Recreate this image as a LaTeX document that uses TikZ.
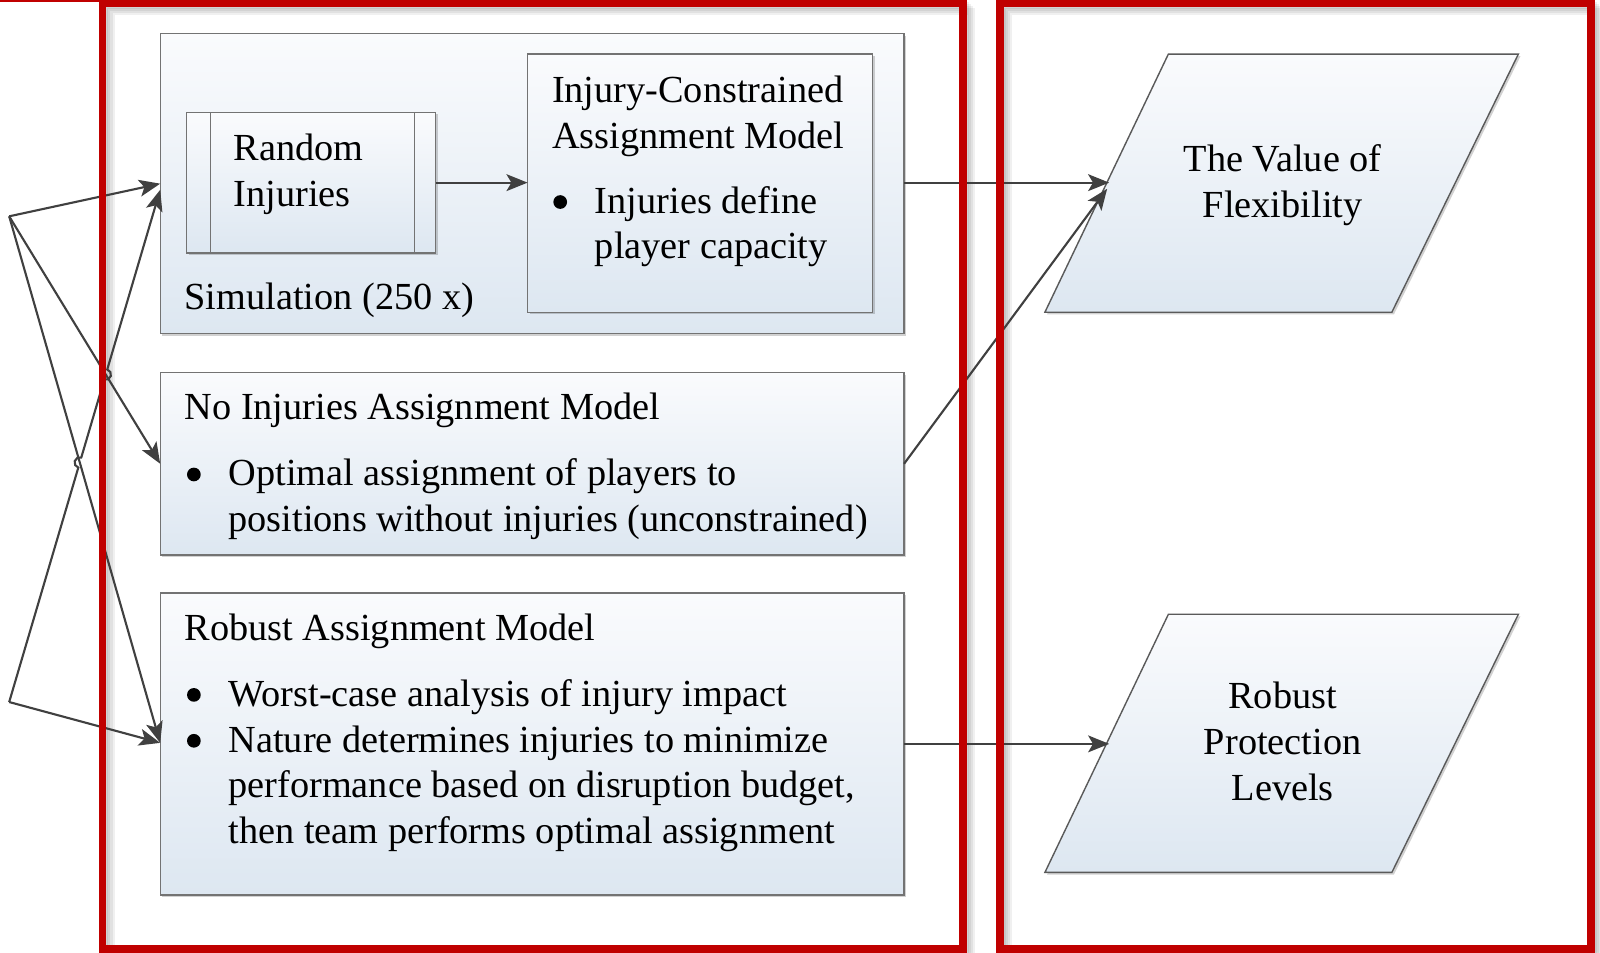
\documentclass[tikz,border=0pt]{standalone}
\usepackage{fontspec}
\setmainfont{Liberation Serif}
\usetikzlibrary{arrows.meta,calc,fit,shadows}
\definecolor{framecol}{RGB}{192,0,0}
\definecolor{boxtop}{RGB}{250,251,253}
\definecolor{boxbot}{RGB}{221,231,241}
\definecolor{boxline}{RGB}{115,115,115}
\definecolor{conncol}{RGB}{64,64,64}
\definecolor{parline}{RGB}{90,90,90}
\begin{document}
\begin{tikzpicture}[x={(0.010204cm,0)}, y={(0,-0.010204cm)},
  box/.style={draw=boxline, line width=0.4pt, top color=boxtop, bottom color=boxbot,
    inner sep=0, outer sep=0,
    drop shadow={shadow xshift=0.6pt, shadow yshift=-0.6pt, opacity=0.18, fill=black}},
  txt/.style={anchor=base west, inner sep=0, outer sep=0, font=\fontsize{10.9}{13}\selectfont},
  ctxt/.style={txt, anchor=base},
  bul/.style={circle, fill=black, inner sep=0, outer sep=0, minimum size=3.9pt},
  conn/.style={draw=conncol, line width=0.6pt, -{Stealth[length=6pt,width=4.8pt,inset=1.4pt]}},
  redframe/.style={draw=framecol, line width=2.2pt},
  fshadow/.style={draw=black, opacity=0.06, line width=2.2pt}]

\useasboundingbox (0,0) rectangle (1568,933);
\fill[white] (0,0) rectangle (1568,933);

% frame shadows
\foreach \d in {2,4,6,8}{
  \draw[fshadow] (100.5+\d,3.4+\d) rectangle (944+\d,930+\d);
  \draw[fshadow] (980+\d,3.4+\d) rectangle (1559+\d,930+\d);
}

% boxes
\node[box, fit={(157,33) (886,327)}] (sim) {};
\node[box, fit={(183,110) (427,248)}] (rand) {};
\draw[draw=boxline, line width=0.4pt]
  ($(rand.north west)+(23,0)$) -- ($(rand.south west)+(23,0)$)
  ($(rand.north east)+(-21,0)$) -- ($(rand.south east)+(-21,0)$);
\node[box, fit={(517,53) (855,306)}] (icm) {};
\node[box, fit={(157,365) (886,544)}] (noinj) {};
\node[box, fit={(157,581) (886,877)}] (rob) {};

% parallelograms
\coordinate (f1) at (1145,53);  \coordinate (f2) at (1488,53);
\coordinate (f3) at (1364,306); \coordinate (f4) at (1024,306);
\coordinate (r1) at (1145,602); \coordinate (r2) at (1488,602);
\coordinate (r3) at (1364,855); \coordinate (r4) at (1024,855);
\path[draw=parline, line width=0.4pt, top color=boxtop, bottom color=boxbot,
  drop shadow={shadow xshift=0.6pt, shadow yshift=-0.6pt, opacity=0.18, fill=black}]
  (f1) -- (f2) -- (f3) -- (f4) -- cycle;
\path[draw=parline, line width=0.4pt, top color=boxtop, bottom color=boxbot,
  drop shadow={shadow xshift=0.6pt, shadow yshift=-0.6pt, opacity=0.18, fill=black}]
  (r1) -- (r2) -- (r3) -- (r4) -- cycle;

% texts
\node[txt] (t1) at (229,157) {Random};
\node[txt] (t2) at (229,202) {Injuries};
\node[txt] (t3) at (181,303) {Simulation (250 x)};
\node[txt] (t4) at (541,100) {Injury-Constrained};
\node[txt] (t5) at (541,146) {Assignment Model};
\node[bul] (b1) at (549,198) {};
\node[txt] (t6) at (583,209) {Injuries define};
\node[txt] (t7) at (583,253) {player capacity};
\node[txt] (t8) at (181,411) {No Injuries Assignment Model};
\node[bul] (b2) at (190,465) {};
\node[txt] (t9) at (224,476) {Optimal assignment of players to};
\node[txt] (t10) at (224,521) {positions without injuries (unconstrained)};
\node[txt] (t11) at (181,628) {Robust Assignment Model};
\node[bul] (b3) at (190,681) {};
\node[txt] (t12) at (224,692) {Worst-case analysis of injury impact};
\node[bul] (b4) at (190,726) {};
\node[txt] (t13) at (224,737) {Nature determines injuries to minimize};
\node[txt] (t14) at (224,782) {performance based on disruption budget,};
\node[txt] (t15) at (224,827) {then team performs optimal assignment};
\node[ctxt] (t16) at (1257,168) {The Value of};
\node[ctxt] (t17) at (1257,213) {Flexibility};
\node[ctxt] (t18) at (1257,694) {Robust};
\node[ctxt] (t19) at (1257,739) {Protection};
\node[ctxt] (t20) at (1257,784) {Levels};

% connection points
\coordinate (A) at (9,212);
\coordinate (B) at (9,688);
\coordinate (s1) at (157,180);
\coordinate (s2) at (157,186);
\coordinate (rt) at (157,728);
\coordinate (nw) at (noinj.west);
\coordinate (flexA) at (1087,179);
\coordinate (flexB) at (1085,185);
\coordinate (protin) at (1087,729);
\coordinate (X1) at (intersection of A--nw and B--s2);
\coordinate (X2) at (intersection of A--rt and B--s2);

% connectors
\draw[conn] (rand.east) -- (icm.west |- rand.east);
\draw[conn] (sim.east |- flexA) -- (flexA);
\draw[conn] (noinj.east) -- (flexB);
\draw[conn] (rob.east |- protin) -- (protin);
\draw[conn] (A) -- (s1);
\draw[conn] (A) -- (nw);
\draw[conn] (A) -- (rt);
\draw[conn] (B) -- (rt);
\draw[conn] (B) -- ($(X2)!1.5pt!(B)$) arc[start angle=253.57, end angle=73.57, radius=1.5pt]
  -- ($(X1)!1.5pt!(B)$) arc[start angle=253.57, end angle=433.57, radius=1.5pt] -- (s2);

% red frames
\draw[draw=framecol, line width=0.5pt] (0,0.8) -- (98,0.8);
\draw[redframe] (100.5,3.4) rectangle (944,930);
\draw[redframe] (980,3.4) rectangle (1559,930);
\end{tikzpicture}
\end{document}
